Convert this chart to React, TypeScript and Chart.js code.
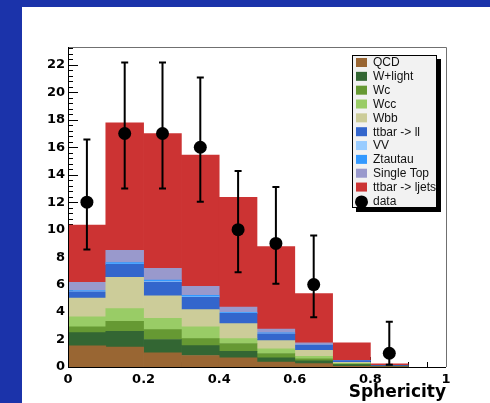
import React, { useEffect, useRef } from 'react';
import { Chart, registerables } from 'chart.js';

Chart.register(...registerables);

// Sphericity bins (centres of 0.1-wide bins from 0 to 1)
const binCenters = [0.05, 0.15, 0.25, 0.35, 0.45, 0.55, 0.65, 0.75, 0.85, 0.95];

// Stacked expectations, bottom to top
const qcd = [1.55, 1.45, 1.03, 0.84, 0.67, 0.35, 0.25, 0.05, 0.03, 0];
const wLight = [0.95, 1.15, 0.97, 0.72, 0.48, 0.32, 0.2, 0.12, 0.03, 0];
const wc = [0.42, 0.73, 0.72, 0.51, 0.56, 0.31, 0.15, 0.05, 0, 0];
const wcc = [0.73, 0.92, 0.82, 0.85, 0.36, 0.34, 0.18, 0.05, 0, 0];
const wbb = [1.37, 2.27, 1.65, 1.26, 1.09, 0.6, 0.44, 0.07, 0, 0];
const ttbarLL = [0.45, 0.95, 1.0, 0.9, 0.75, 0.5, 0.35, 0.12, 0.07, 0];
const vv = [0.03, 0.03, 0.04, 0.03, 0.02, 0.02, 0.01, 0, 0, 0];
const ztautau = [0.07, 0.1, 0.1, 0.1, 0.05, 0.04, 0.02, 0, 0, 0];
const singleTop = [0.6, 0.9, 0.85, 0.66, 0.39, 0.29, 0.16, 0.03, 0, 0];
const ttbarLJets = [4.16, 9.27, 9.82, 9.56, 7.99, 6.0, 3.58, 1.27, 0.1, 0];

const seriesNames = ['QCD', 'W+light', 'Wc', 'Wcc', 'Wbb', 'ttbar -> ll', 'VV', 'Ztautau', 'Single Top', 'ttbar -> ljets'];
const seriesValues = [qcd, wLight, wc, wcc, wbb, ttbarLL, vv, ztautau, singleTop, ttbarLJets];
const seriesColors = ['#996633', '#336633', '#669933', '#99cc66', '#cccc99', '#3366cc', '#99ccff', '#3399ff', '#9999cc', '#cc3333'];

// Observed events with asymmetric Poisson errors (empty bins are not drawn)
const dataCounts = [12, 17, 17, 16, 10, 9, 6, null, 1, null];
const dataErrUp = [4.56, 5.17, 5.17, 5.08, 4.27, 4.11, 3.58, 0, 2.3, 0];
const dataErrDown = [3.44, 4.0, 4.0, 3.96, 3.11, 2.94, 2.38, 0, 0.83, 0];

const xTickValues = [0, 0.2, 0.4, 0.6, 0.8, 1];
const yTickValues = [0, 2, 4, 6, 8, 10, 12, 14, 16, 18, 20, 22];
const yMax = 23.3;

const axisFont = { family: 'DejaVu Sans', weight: 'bold' as const, size: 13 };

// Inward ROOT-style tick marks, drawn under the histograms
const tickMarksPlugin = {
  id: 'tickMarks',
  beforeDatasetsDraw(chart: any) {
    const { ctx, chartArea, scales } = chart;
    const xs = scales.x;
    const ys = scales.y;
    ctx.save();
    ctx.strokeStyle = '#000';
    ctx.lineWidth = 1;
    ctx.beginPath();
    for (let k = 0; k * 0.4 <= yMax + 1e-9; k++) {
      const v = k * 0.4;
      const py = Math.round(ys.getPixelForValue(v)) + 0.5;
      const len = k % 5 === 0 ? 10 : 5;
      ctx.moveTo(chartArea.left, py);
      ctx.lineTo(chartArea.left + len, py);
    }
    for (let k = 0; k <= 20; k++) {
      const v = k * 0.05;
      const px = Math.round(xs.getPixelForValue(v)) + 0.5;
      const len = k % 4 === 0 ? 10 : 5;
      ctx.moveTo(px, chartArea.bottom);
      ctx.lineTo(px, chartArea.bottom - len);
    }
    ctx.stroke();
    ctx.restore();
  },
  afterDatasetsDraw(chart: any) {
    const { ctx, chartArea, scales } = chart;
    const xs = scales.x;
    const ys = scales.y;
    ctx.save();
    // frame
    ctx.strokeStyle = '#707070';
    ctx.lineWidth = 1;
    ctx.beginPath();
    ctx.moveTo(chartArea.left, chartArea.top + 0.5);
    ctx.lineTo(chartArea.right + 0.5, chartArea.top + 0.5);
    ctx.lineTo(chartArea.right + 0.5, chartArea.bottom);
    ctx.stroke();
    // axes
    ctx.strokeStyle = '#000';
    ctx.beginPath();
    ctx.moveTo(chartArea.left + 0.5, chartArea.top);
    ctx.lineTo(chartArea.left + 0.5, chartArea.bottom + 0.5);
    ctx.lineTo(chartArea.right, chartArea.bottom + 0.5);
    ctx.stroke();
    // error bars on the data points
    ctx.lineWidth = 2;
    ctx.beginPath();
    binCenters.forEach((c, i) => {
      const n = dataCounts[i];
      if (n === null) return;
      const px = xs.getPixelForValue(c);
      const top = ys.getPixelForValue(n + dataErrUp[i]);
      const bot = ys.getPixelForValue(n - dataErrDown[i]);
      ctx.moveTo(px, top);
      ctx.lineTo(px, bot);
      ctx.moveTo(px - 3.5, top);
      ctx.lineTo(px + 3.5, top);
      ctx.moveTo(px - 3.5, bot);
      ctx.lineTo(px + 3.5, bot);
    });
    ctx.stroke();
    ctx.restore();
  },
};

// Boxed legend with a drop shadow in the upper right corner
const boxLegendPlugin = {
  id: 'boxLegend',
  afterDraw(chart: any) {
    const { ctx } = chart;
    const x0 = 352;
    const y0 = 55;
    const w = 85;
    const h = 153;
    ctx.save();
    ctx.fillStyle = '#000';
    ctx.fillRect(x0 + 4, y0 + 4, w, h);
    ctx.fillStyle = '#f2f2f2';
    ctx.fillRect(x0, y0, w, h);
    ctx.strokeStyle = '#000';
    ctx.lineWidth = 1;
    ctx.strokeRect(x0 + 0.5, y0 + 0.5, w - 1, h - 1);
    ctx.beginPath();
    ctx.rect(x0 + 1, y0 + 1, w - 2, h - 2);
    ctx.clip();
    ctx.font = '12px "Liberation Sans", Arial, sans-serif';
    ctx.textBaseline = 'middle';
    ctx.textAlign = 'left';
    chart.data.datasets.forEach((ds: any, i: number) => {
      const cy = y0 + 7.5 + i * 13.84;
      if (ds.type === 'scatter') {
        ctx.fillStyle = '#000';
        ctx.beginPath();
        ctx.arc(x0 + 9.5, cy + 1, 6.5, 0, Math.PI * 2);
        ctx.fill();
      } else {
        ctx.fillStyle = ds.backgroundColor;
        ctx.fillRect(x0 + 4, cy - 4.5, 11, 9);
      }
      ctx.fillStyle = '#111';
      ctx.fillText(ds.label, x0 + 21, cy + 0.5);
    });
    ctx.restore();
  },
};

export default function App() {
  const canvasRef = useRef<HTMLCanvasElement>(null);

  useEffect(() => {
    if (!canvasRef.current) return;
    const barSets = seriesValues.map((vals, i) => ({
      type: 'bar' as const,
      label: seriesNames[i],
      data: binCenters.map((x, j) => ({ x, y: vals[j] > 0 ? vals[j] : null })),
      backgroundColor: seriesColors[i],
      borderWidth: 0,
      stack: 'mc',
      order: 2,
      categoryPercentage: 1,
      barPercentage: 1,
    }));
    const dataSet = {
      type: 'scatter' as const,
      label: 'data',
      data: binCenters.map((x, j) => ({ x, y: dataCounts[j] })),
      backgroundColor: '#000',
      borderColor: '#000',
      pointRadius: 6.5,
      pointHoverRadius: 6.5,
      borderWidth: 0,
      stack: 'data',
      order: 1,
    };

    const chart = new Chart(canvasRef.current, {
      type: 'bar',
      data: { datasets: [...barSets, dataSet] as any },
      options: {
        animation: false,
        responsive: false,
        devicePixelRatio: 1,
        layout: { padding: { left: 0, top: 47, right: 44, bottom: 0 } },
        plugins: {
          legend: { display: false },
          tooltip: { enabled: false },
          title: { display: false },
        },
        scales: {
          x: {
            type: 'linear',
            min: 0,
            max: 1,
            stacked: true,
            offset: false,
            grid: { display: false, drawTicks: false },
            border: { display: false },
            afterBuildTicks: (s: any) => {
              s.ticks = xTickValues.map((v) => ({ value: v }));
            },
            afterFit: (s: any) => {
              s.height = 36;
            },
            ticks: {
              padding: 5,
              color: '#000',
              font: axisFont,
              maxRotation: 0,
              autoSkip: false,
              callback: (v: any) => String(v),
            },
            title: {
              display: true,
              text: 'Sphericity',
              align: 'end',
              color: '#000',
              font: { family: 'DejaVu Sans', weight: 'bold', size: 17 },
              padding: 0,
            },
          },
          y: {
            type: 'linear',
            min: 0,
            max: yMax,
            stacked: true,
            grid: { display: false, drawTicks: false },
            border: { display: false },
            afterBuildTicks: (s: any) => {
              s.ticks = yTickValues.map((v) => ({ value: v }));
            },
            afterFit: (s: any) => {
              s.width = 68;
            },
            ticks: {
              padding: 3,
              color: '#000',
              font: axisFont,
              autoSkip: false,
              callback: (v: any) => String(v),
            },
          },
        },
      } as any,
      plugins: [tickMarksPlugin, boxLegendPlugin],
    });
    return () => chart.destroy();
  }, []);

  return (
    <div
      style={{
        position: 'fixed',
        left: 0,
        top: 0,
        width: 490,
        height: 403,
        background: '#1b33aa',
        overflow: 'hidden',
      }}
    >
      <div style={{ position: 'absolute', left: 22, top: 7, right: 0, bottom: 0, background: '#fff' }} />
      <canvas
        ref={canvasRef}
        width={490}
        height={403}
        style={{ position: 'absolute', left: 0, top: 0, width: 490, height: 403 }}
      />
    </div>
  );
}
